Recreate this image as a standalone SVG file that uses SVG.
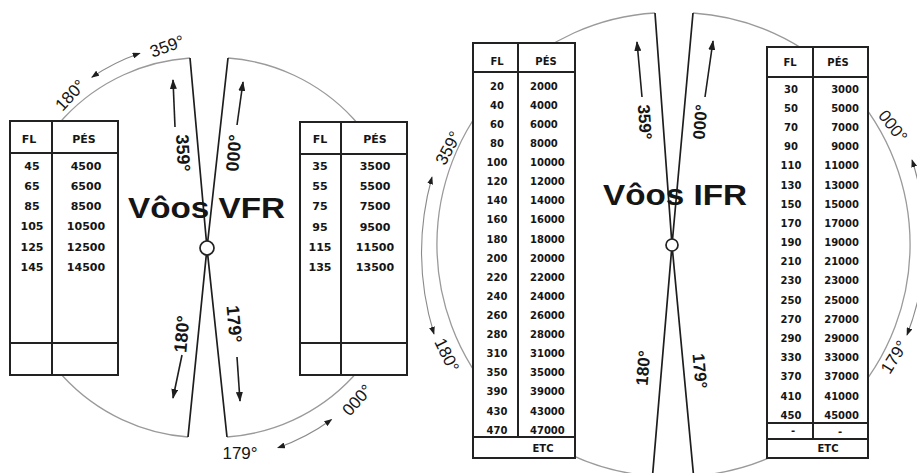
<svg xmlns="http://www.w3.org/2000/svg" width="917" height="473" viewBox="0 0 917 473">
<style>
.arc{fill:none;stroke:#9a9a9a;stroke-width:1.3}
.oarc{fill:none;stroke:#8a8a8a;stroke-width:1.1}
.wedge{fill:none;stroke:#1e1e1e;stroke-width:1.7;stroke-linejoin:miter}
.arr{stroke:#1e1e1e;stroke-width:1.6}
.tb{fill:#fff;stroke:#222;stroke-width:2}
.tl{stroke:#222;stroke-width:2}
.hub{fill:#fff;stroke:#222;stroke-width:1.7}
.lbl{font-family:"Liberation Sans",Arial,sans-serif;fill:#151515;text-anchor:middle}
.big{font-size:29px;font-weight:bold}
.wd{font-size:18px;font-weight:bold}
.od{font-size:17px}
.tab{font-family:"DejaVu Sans",Verdana,sans-serif;font-weight:bold;fill:#151515;text-anchor:middle}
.v{font-size:11px}
.i{font-size:10px}
.end{text-anchor:end}
.st{text-anchor:start}
</style>
<defs>
<marker id="ah" viewBox="0 0 10 10" refX="9" refY="5" markerWidth="10" markerHeight="7" markerUnits="userSpaceOnUse" orient="auto" preserveAspectRatio="none"><path d="M0,0 L10,5 L0,10 z" fill="#1e1e1e"/></marker>
<marker id="ah2" viewBox="0 0 10 10" refX="9" refY="5" markerWidth="8" markerHeight="6" markerUnits="userSpaceOnUse" orient="auto-start-reverse" preserveAspectRatio="none"><path d="M0,0 L10,5 L0,10 z" fill="#1e1e1e"/></marker>
</defs>
<rect width="917" height="473" fill="#fff"/>

<g id="connectors">
  <!-- VFR circle arcs -->
  <path class="arc" d="M190 58 A190 190 0 0 0 188 437"/>
  <path class="arc" d="M228 58 A190 190 0 0 1 227 437"/>
  <!-- IFR circle arcs -->
  <path class="arc" d="M655 13 A232 232 0 0 0 652.5 476"/>
  <path class="arc" d="M693 13 A232 232 0 0 1 693.6 476"/>
  <!-- outer arrow arcs -->
  <path class="oarc" d="M91.8 77.2 A206 206 0 0 1 139.9 53.2" marker-start="url(#ah2)" marker-end="url(#ah2)"/>
  <path class="oarc" d="M277.8 447.8 A212 212 0 0 0 331.6 419.5" marker-start="url(#ah2)" marker-end="url(#ah2)"/>
  <path class="oarc" d="M432 177 A280 280 0 0 0 434 334" marker-start="url(#ah2)" marker-end="url(#ah2)"/>
  <path class="oarc" d="M912 160 A260 260 0 0 1 907 335" marker-start="url(#ah2)" marker-end="url(#ah2)"/>
  <!-- wedges -->
  <polyline class="wedge" points="190,58 207,248 228,58"/>
  <polyline class="wedge" points="188,437 207,248 227,437"/>
  <polyline class="wedge" points="655,13 672,245 693,13"/>
  <polyline class="wedge" points="652.5,476 672,245 693.6,476"/>
  <!-- wedge arrows -->
  <line class="arr" x1="175" y1="127" x2="173" y2="80" marker-end="url(#ah)"/>
  <line class="arr" x1="237" y1="125" x2="243" y2="82" marker-end="url(#ah)"/>
  <line class="arr" x1="182" y1="355" x2="173" y2="398" marker-end="url(#ah)"/>
  <line class="arr" x1="237" y1="357" x2="240" y2="401" marker-end="url(#ah)"/>
  <line class="arr" x1="642" y1="97" x2="637" y2="42" marker-end="url(#ah)"/>
  <line class="arr" x1="705" y1="97" x2="713" y2="41" marker-end="url(#ah)"/>
</g>

<g id="vfr-hub"><circle class="hub" cx="207" cy="248" r="7"/></g>
<g id="ifr-hub"><circle class="hub" cx="672" cy="245" r="6"/></g>

<g id="vfr-labels">
  <text class="lbl big" x="128" y="218" textLength="157" lengthAdjust="spacingAndGlyphs" style="text-anchor:start">Vôos VFR</text>
  <text class="lbl wd" transform="translate(183,153) rotate(87)" y="6">359°</text>
  <text class="lbl wd" transform="translate(234,153) rotate(-85)" y="6">000°</text>
  <text class="lbl wd" transform="translate(182,334) rotate(-85)" y="6">180°</text>
  <text class="lbl wd" transform="translate(234,324) rotate(85)" y="6">179°</text>
  <text class="lbl od" transform="translate(70,95) rotate(-47)" y="6">180°</text>
  <text class="lbl od" transform="translate(167,46) rotate(-20)" y="6">359°</text>
  <text class="lbl od" transform="translate(240,453)" y="6">179°</text>
  <text class="lbl od" transform="translate(357,400) rotate(-48)" y="6">000°</text>
</g>

<g id="ifr-labels">
  <text class="lbl big" x="603" y="205" style="font-size:30px;text-anchor:start" textLength="144" lengthAdjust="spacingAndGlyphs">Vôos IFR</text>
  <text class="lbl wd" style="font-size:17px" transform="translate(645,122) rotate(86)" y="6">359°</text>
  <text class="lbl wd" style="font-size:17px" transform="translate(700,122) rotate(-85)" y="6">000°</text>
  <text class="lbl wd" style="font-size:17px" transform="translate(643,368) rotate(-85)" y="6">180°</text>
  <text class="lbl wd" style="font-size:17px" transform="translate(700,371) rotate(85)" y="6">179°</text>
  <text class="lbl od" transform="translate(448,148) rotate(-62)" y="6">359°</text>
  <text class="lbl od" transform="translate(447,355) rotate(64)" y="6">180°</text>
  <text class="lbl od" transform="translate(893,126) rotate(52)" y="6">000°</text>
  <text class="lbl od" transform="translate(894,357) rotate(-58)" y="6">179°</text>
</g>

<g id="vfr-table-left">
  <rect class="tb" x="10" y="121" width="108" height="254"/>
  <line class="tl" x1="52" y1="121" x2="52" y2="375"/>
  <line class="tl" x1="10" y1="153" x2="118" y2="153"/>
  <line class="tl" x1="10" y1="343" x2="118" y2="343"/>
  <g class="tab v">
    <text x="29" y="143">FL</text><text x="84" y="143">PÉS</text>
    <text x="32" y="170">45</text><text x="86" y="170">4500</text>
    <text x="32" y="190">65</text><text x="86" y="190">6500</text>
    <text x="32" y="210">85</text><text x="86" y="210">8500</text>
    <text x="32" y="230">105</text><text x="86" y="230">10500</text>
    <text x="32" y="251">125</text><text x="86" y="251">12500</text>
    <text x="32" y="271">145</text><text x="86" y="271">14500</text>
  </g>
</g>

<g id="vfr-table-right">
  <rect class="tb" x="300" y="122" width="107" height="253"/>
  <line class="tl" x1="341" y1="122" x2="341" y2="375"/>
  <line class="tl" x1="300" y1="154" x2="407" y2="154"/>
  <line class="tl" x1="300" y1="343" x2="407" y2="343"/>
  <g class="tab v">
    <text x="320" y="143">FL</text><text x="375" y="143">PÉS</text>
    <text x="320" y="170">35</text><text x="375" y="170">3500</text>
    <text x="320" y="190">55</text><text x="375" y="190">5500</text>
    <text x="320" y="210">75</text><text x="375" y="210">7500</text>
    <text x="320" y="231">95</text><text x="375" y="231">9500</text>
    <text x="320" y="251">115</text><text x="375" y="251">11500</text>
    <text x="320" y="271">135</text><text x="375" y="271">13500</text>
  </g>
</g>

<g id="ifr-table-left">
  <rect class="tb" x="473" y="43" width="102" height="415"/>
  <line class="tl" x1="518" y1="43" x2="518" y2="437"/>
  <line class="tl" x1="473" y1="72" x2="575" y2="72"/>
  <line class="tl" x1="473" y1="437" x2="575" y2="437"/>
  <g class="tab i">
    <text x="497" y="65">FL</text><text x="546" y="65">PÉS</text>
    <text x="497" y="89.6">20</text><text class="st" x="530" y="89.6">2000</text>
    <text x="497" y="108.7">40</text><text class="st" x="530" y="108.7">4000</text>
    <text x="497" y="127.8">60</text><text class="st" x="530" y="127.8">6000</text>
    <text x="497" y="146.9">80</text><text class="st" x="530" y="146.9">8000</text>
    <text x="497" y="166.0">100</text><text class="st" x="530" y="166.0">10000</text>
    <text x="497" y="185.2">120</text><text class="st" x="530" y="185.2">12000</text>
    <text x="497" y="204.3">140</text><text class="st" x="530" y="204.3">14000</text>
    <text x="497" y="223.4">160</text><text class="st" x="530" y="223.4">16000</text>
    <text x="497" y="242.5">180</text><text class="st" x="530" y="242.5">18000</text>
    <text x="497" y="261.6">200</text><text class="st" x="530" y="261.6">20000</text>
    <text x="497" y="280.7">220</text><text class="st" x="530" y="280.7">22000</text>
    <text x="497" y="299.8">240</text><text class="st" x="530" y="299.8">24000</text>
    <text x="497" y="318.9">260</text><text class="st" x="530" y="318.9">26000</text>
    <text x="497" y="338.0">280</text><text class="st" x="530" y="338.0">28000</text>
    <text x="497" y="357.1">310</text><text class="st" x="530" y="357.1">31000</text>
    <text x="497" y="376.3">350</text><text class="st" x="530" y="376.3">35000</text>
    <text x="497" y="395.4">390</text><text class="st" x="530" y="395.4">39000</text>
    <text x="497" y="414.5">430</text><text class="st" x="530" y="414.5">43000</text>
    <text x="497" y="433.6">470</text><text class="st" x="530" y="433.6">47000</text>
    <text x="543" y="452">ETC</text>
  </g>
</g>

<g id="ifr-table-right">
  <rect class="tb" x="767" y="47" width="101" height="411"/>
  <line class="tl" x1="813" y1="47" x2="813" y2="439"/>
  <line class="tl" x1="767" y1="77" x2="868" y2="77"/>
  <line class="tl" x1="767" y1="423" x2="868" y2="423"/>
  <line class="tl" x1="767" y1="439" x2="868" y2="439"/>
  <g class="tab i">
    <text x="790" y="66">FL</text><text x="838" y="66">PÉS</text>
    <text x="791" y="92.6">30</text><text class="end" x="859" y="92.6">3000</text>
    <text x="791" y="111.8">50</text><text class="end" x="859" y="111.8">5000</text>
    <text x="791" y="131.0">70</text><text class="end" x="859" y="131.0">7000</text>
    <text x="791" y="150.1">90</text><text class="end" x="859" y="150.1">9000</text>
    <text x="791" y="169.3">110</text><text class="end" x="859" y="169.3">11000</text>
    <text x="791" y="188.5">130</text><text class="end" x="859" y="188.5">13000</text>
    <text x="791" y="207.7">150</text><text class="end" x="859" y="207.7">15000</text>
    <text x="791" y="226.9">170</text><text class="end" x="859" y="226.9">17000</text>
    <text x="791" y="246.0">190</text><text class="end" x="859" y="246.0">19000</text>
    <text x="791" y="265.2">210</text><text class="end" x="859" y="265.2">21000</text>
    <text x="791" y="284.4">230</text><text class="end" x="859" y="284.4">23000</text>
    <text x="791" y="303.6">250</text><text class="end" x="859" y="303.6">25000</text>
    <text x="791" y="322.8">270</text><text class="end" x="859" y="322.8">27000</text>
    <text x="791" y="342.0">290</text><text class="end" x="859" y="342.0">29000</text>
    <text x="791" y="361.1">330</text><text class="end" x="859" y="361.1">33000</text>
    <text x="791" y="380.3">370</text><text class="end" x="859" y="380.3">37000</text>
    <text x="791" y="399.5">410</text><text class="end" x="859" y="399.5">41000</text>
    <text x="791" y="418.7">450</text><text class="end" x="859" y="418.7">45000</text>
    <text x="793" y="434">-</text><text x="840" y="435">-</text>
    <text x="828" y="452">ETC</text>
  </g>
</g>
</svg>
